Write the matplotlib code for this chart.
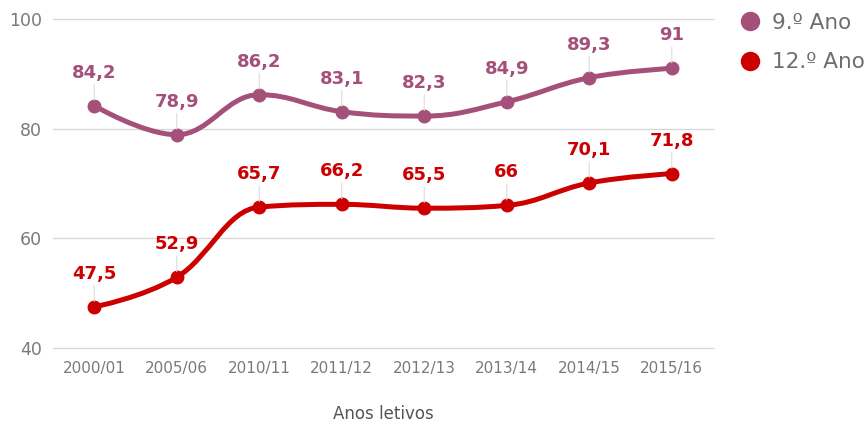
import matplotlib
matplotlib.use('Agg')
import matplotlib.pyplot as plt
from matplotlib.path import Path
from matplotlib.patches import PathPatch
from matplotlib.lines import Line2D

plt.rcParams['font.family'] = ['DejaVu Sans']

anos = ['2000/01', '2005/06', '2010/11', '2011/12', '2012/13', '2013/14', '2014/15', '2015/16']
ano9 = [84.2, 78.9, 86.2, 83.1, 82.3, 84.9, 89.3, 91]
ano12 = [47.5, 52.9, 65.7, 66.2, 65.5, 66, 70.1, 71.8]
series_names = ['9.º Ano', '12.º Ano']
series_colors = ['#a4507b', '#cc0000']


def spline_path(xs, ys, smoothing=1.5):
    # highcharts-like spline control points
    n = len(xs)
    lc = [(x, y) for x, y in zip(xs, ys)]
    rc = [(x, y) for x, y in zip(xs, ys)]
    d = smoothing + 1
    for i in range(1, n - 1):
        px, py = xs[i], ys[i]
        lx, ly = xs[i - 1], ys[i - 1]
        nx_, ny = xs[i + 1], ys[i + 1]
        lcx = (smoothing * px + lx) / d
        lcy = (smoothing * py + ly) / d
        rcx = (smoothing * px + nx_) / d
        rcy = (smoothing * py + ny) / d
        corr = ((rcy - lcy) * (rcx - px)) / (rcx - lcx) + py - rcy
        lcy += corr
        rcy += corr
        if lcy > ly and lcy > py:
            lcy = max(ly, py)
            rcy = 2 * py - lcy
        elif lcy < ly and lcy < py:
            lcy = min(ly, py)
            rcy = 2 * py - lcy
        if rcy > ny and rcy > py:
            rcy = max(ny, py)
            lcy = 2 * py - rcy
        elif rcy < ny and rcy < py:
            rcy = min(ny, py)
            lcy = 2 * py - rcy
        lc[i] = (lcx, lcy)
        rc[i] = (rcx, rcy)
    verts = [(xs[0], ys[0])]
    codes = [Path.MOVETO]
    for i in range(1, n):
        verts += [rc[i - 1], lc[i], (xs[i], ys[i])]
        codes += [Path.CURVE4] * 3
    return Path(verts, codes)


fig = plt.figure(figsize=(8.68, 4.25), dpi=100)
ax = fig.add_axes([53 / 868, 1 - 348 / 425, 660 / 868, 329 / 425])

x = list(range(len(anos)))
for vals, color in zip([ano9, ano12], series_colors):
    p = PathPatch(spline_path(x, vals), facecolor='none', edgecolor=color,
                  lw=3.6, capstyle='round', joinstyle='round', zorder=3)
    ax.add_patch(p)
    ax.plot(x, vals, 'o', color=color, markersize=9, zorder=4)
    for xi, v in zip(x, vals):
        lbl = ('%g' % v).replace('.', ',')
        ax.annotate(lbl, (xi, v), xytext=(0, 24), textcoords='offset pixels',
                    ha='center', va='bottom', fontsize=13, fontweight='bold',
                    color=color, zorder=5,
                    arrowprops=dict(arrowstyle='-', color='#dddddd', lw=0.8,
                                    shrinkA=0, shrinkB=4, relpos=(0.5, 0)))

ax.set_xlim(-0.5, 7.5)
ax.set_ylim(40, 100)
ax.set_yticks([40, 60, 80, 100])
ax.set_xticks(x)
ax.set_xticklabels(anos)
for s in ax.spines.values():
    s.set_visible(False)
ax.yaxis.grid(True, color='#d8d8d8', lw=1)
for gl in ax.get_ygridlines():
    gl.set_clip_on(False)
ax.set_axisbelow(True)
ax.tick_params(axis='y', length=0, pad=8, labelsize=12.5, labelcolor='#7a7a7a')
ax.tick_params(axis='x', length=0, pad=9, labelsize=11, labelcolor='#7a7a7a')
ax.set_xlabel('Anos letivos', fontsize=12, color='#555555', labelpad=21)

handles = [Line2D([], [], marker='o', linestyle='none', color=c, markersize=13)
           for c in series_colors]
leg = ax.legend(handles, series_names, loc='upper left',
                bbox_to_anchor=(739 / 868, 1 - 13 / 425), bbox_transform=fig.transFigure,
                frameon=False, fontsize=15.5, handlelength=1, handletextpad=0.55,
                borderpad=0, borderaxespad=0, labelspacing=0.9)
for t in leg.get_texts():
    t.set_color('#6e6e6e')

fig.savefig('out.png', dpi=100)
